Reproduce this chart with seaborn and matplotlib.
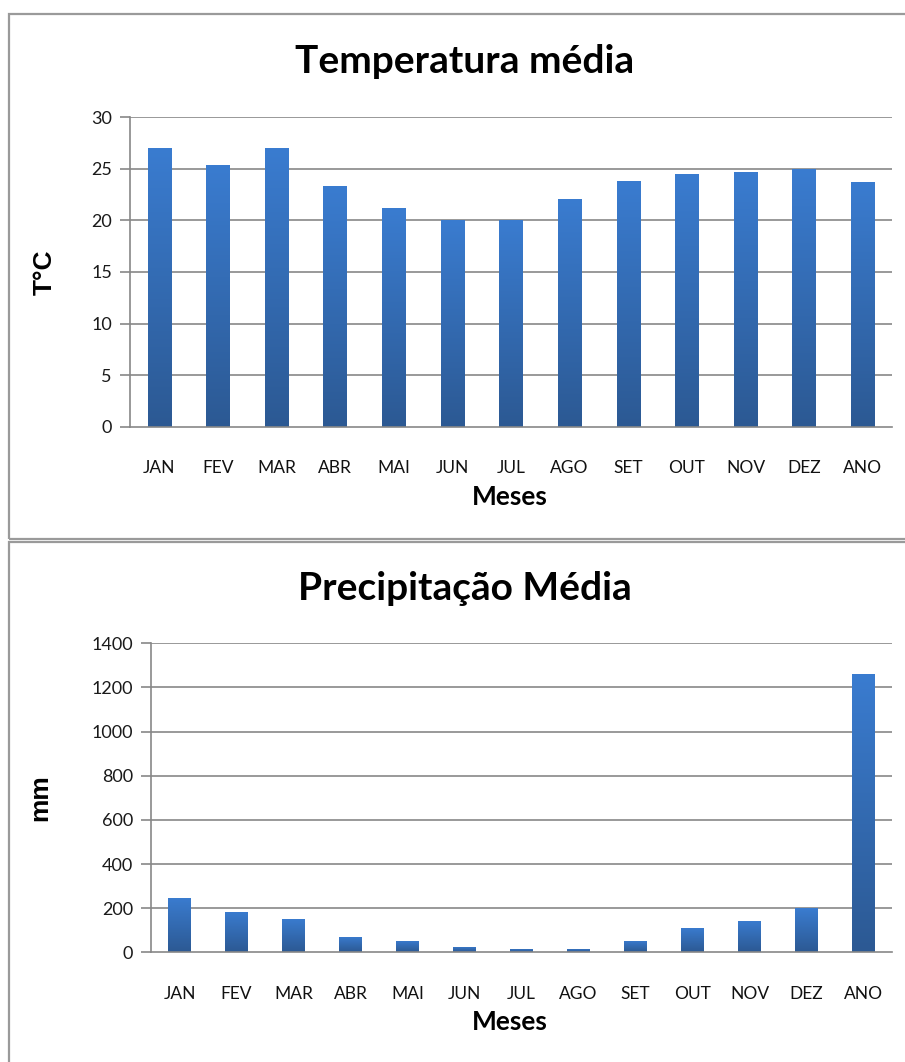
import numpy as np
import pandas as pd
import matplotlib
matplotlib.use("Agg")
import matplotlib.pyplot as plt
from matplotlib.patches import Rectangle
from matplotlib.colors import LinearSegmentedColormap
import seaborn as sns

# ---- data ----
meses = ["JAN", "FEV", "MAR", "ABR", "MAI", "JUN", "JUL",
         "AGO", "SET", "OUT", "NOV", "DEZ", "ANO"]
temperatura = [27.0, 25.4, 27.0, 23.3, 21.2, 20.0, 20.0,
               22.1, 23.8, 24.5, 24.7, 25.0, 23.7]
precipitacao = [245, 184, 151, 68, 51, 25, 16,
                17, 51, 109, 142, 199, 1260]
temp_ticks = [0, 5, 10, 15, 20, 25, 30]
prec_ticks = [0, 200, 400, 600, 800, 1000, 1200, 1400]

sns.set_theme(style="white")
plt.rcParams["font.family"] = ["Lato", "DejaVu Sans"]
plt.rcParams["text.color"] = "black"

W, H = 905, 1062
fig = plt.figure(figsize=(W / 100, H / 100), dpi=100)
fig.patch.set_facecolor("white")


def px_axes(left, top, right, bottom):
    return fig.add_axes([left / W, 1 - bottom / H, (right - left) / W, (bottom - top) / H])


# panel frames
frame_kw = dict(fill=False, edgecolor="#9a9a9a", linewidth=1.6, transform=fig.transFigure,
                figure=fig, clip_on=False)
fig.patches.append(Rectangle((9 / W, 1 - 539 / H), (W + 10) / W, (539 - 14) / H, **frame_kw))
fig.patches.append(Rectangle((9 / W, -0.05), (W + 10) / W, 1 - 542 / H + 0.05, **frame_kw))

grad_cmap = LinearSegmentedColormap.from_list("barfill", ["#2c5993", "#3a7cd0"])
grad = np.linspace(0, 1, 256).reshape(-1, 1)


def draw_panel(ax, values, ticks, title, ylabel, title_y, ylabel_x, xlabel_y):
    df = pd.DataFrame({"mes": meses, "valor": values})
    sns.barplot(data=df, x="mes", y="valor", ax=ax, width=0.4,
                color="#3470bb", saturation=1, edgecolor="none", zorder=3)
    # vertical gradient inside every bar
    for p in list(ax.patches):
        x0, y0 = p.get_x(), p.get_y()
        w, h = p.get_width(), p.get_height()
        im = ax.imshow(grad, extent=[x0, x0 + w, y0, y0 + h], origin="lower",
                       cmap=grad_cmap, aspect="auto", zorder=4)
        im.set_clip_path(p)
    ax.set_xlim(-0.5, len(meses) - 0.5)
    ax.set_ylim(ticks[0], ticks[-1])
    ax.set_yticks(ticks)
    ax.set_yticklabels([str(t) for t in ticks], fontsize=13, color="#1a1a1a")

    ax.grid(False)
    for t in ticks[1:]:
        ax.axhline(t, color="#878787", linewidth=1.2, zorder=1)
    for s in ["top", "right"]:
        ax.spines[s].set_visible(False)
    for s in ["left", "bottom"]:
        ax.spines[s].set_color("#878787")
        ax.spines[s].set_linewidth(1.2)
        ax.spines[s].set_zorder(5)

    ax.set_xticks(range(len(meses)))
    ax.set_xticklabels(meses, fontsize=12.5, color="#111111")
    ax.set_xticks(np.arange(-0.5, len(meses), 1.0), minor=True)
    ax.tick_params(axis="x", which="major", length=0, pad=24)
    ax.tick_params(axis="x", which="minor", length=5, width=1.2, color="#878787", direction="out")
    ax.tick_params(axis="y", which="major", length=7, width=1.2, color="#878787",
                   direction="out", pad=6, left=True)
    ax.set_xlabel("")
    ax.set_ylabel("")

    fig.text(465 / W, 1 - title_y / H, title, ha="center", va="center",
             fontsize=28, fontweight="bold")
    yc = ax.get_position().y0 + ax.get_position().height / 2
    fig.text(ylabel_x / W, yc, ylabel, rotation=90, ha="center", va="center",
             fontsize=19, fontweight="bold", family=["Liberation Sans", "DejaVu Sans"])
    fig.text(510 / W, 1 - xlabel_y / H, "Meses", ha="center", va="center",
             fontsize=19, fontweight="bold")


ax1 = px_axes(130, 117.3, 892, 426.7)
draw_panel(ax1, temperatura, temp_ticks, "Temperatura média", "T°C", 62, 45, 497)

ax2 = px_axes(151, 643.3, 892, 952.3)
draw_panel(ax2, precipitacao, prec_ticks, "Precipitação Média", "mm", 589, 40, 1022)

fig.savefig("out.png", dpi=100, facecolor="white")
